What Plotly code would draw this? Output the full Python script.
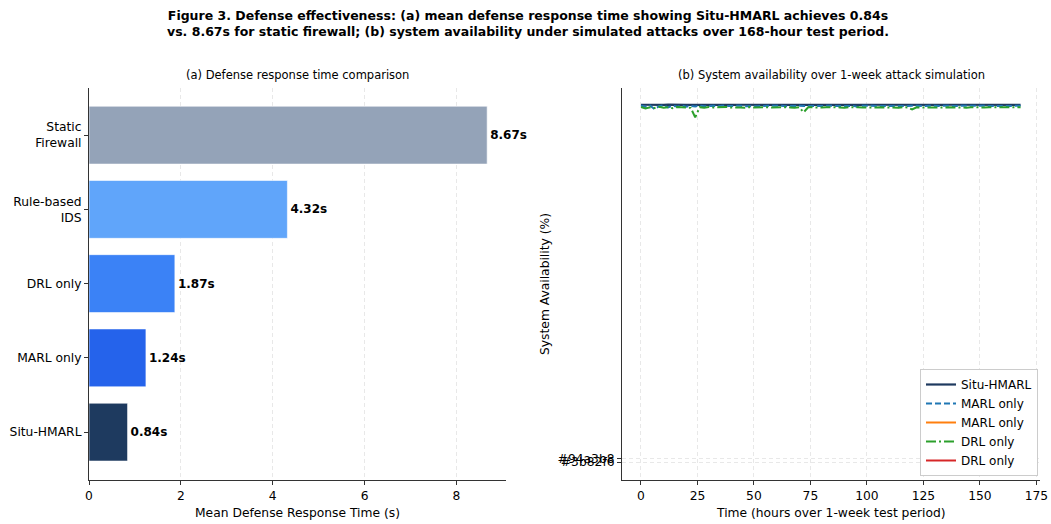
import plotly.graph_objects as go

# ---------------- data ----------------
methods = ["Situ-HMARL", "MARL only", "DRL only", "Rule-based<br>IDS", "Static<br>Firewall"]
response_times = [0.84, 1.24, 1.87, 4.32, 8.67]
bar_colors = ["#1e3a5f", "#2563eb", "#3b82f6", "#60a5fa", "#94a3b8"]

hours = list(range(0, 169, 2))

situ_hmarl = [
    99.92, 99.88, 99.90, 99.86, 99.91, 99.89, 99.93, 99.87, 99.90, 99.92,
    99.88, 99.91, 99.89, 99.90, 99.93, 99.88, 99.90, 99.91, 99.87, 99.92,
    99.90, 99.89, 99.91, 99.88, 99.90, 99.92, 99.89, 99.90, 99.91, 99.88,
    99.92, 99.90, 99.89, 99.91, 99.90, 99.88, 99.92, 99.90, 99.89, 99.91,
    99.90, 99.88, 99.92, 99.89, 99.90, 99.91, 99.88, 99.90, 99.92, 99.89,
    99.91, 99.90, 99.88, 99.92, 99.90, 99.89, 99.91, 99.90, 99.88, 99.92,
    99.90, 99.89, 99.91, 99.90, 99.88, 99.92, 99.90, 99.89, 99.91, 99.90,
    99.88, 99.92, 99.90, 99.89, 99.91, 99.90, 99.88, 99.92, 99.90, 99.89,
    99.91, 99.90, 99.88, 99.92, 99.90,
]
marl_only = [
    99.72, 99.30, 99.65, 98.70, 99.50, 99.75, 99.20, 99.62, 99.40, 99.70,
    99.35, 99.60, 99.45, 99.68, 99.50, 99.58, 99.62, 99.48, 99.66, 99.55,
    99.60, 99.52, 99.64, 99.50, 99.58, 99.62, 99.54, 99.60, 99.66, 99.52,
    99.58, 99.64, 99.50, 99.60, 99.56, 99.62, 99.58, 99.54, 99.64, 99.60,
    99.56, 99.62, 99.58, 99.52, 99.60, 99.64, 99.56, 99.60, 99.30, 99.62,
    99.58, 99.60, 99.54, 99.64, 99.58, 99.60, 99.56, 99.62, 99.58, 99.60,
    99.64, 99.56, 99.60, 99.58, 99.62, 99.54, 99.60, 99.64, 99.58, 99.60,
    99.56, 99.62, 99.60, 99.58, 99.64, 99.60, 99.56, 99.62, 99.60, 99.58,
    99.62, 99.60, 99.58, 99.64, 99.66,
]
drl_only = [
    99.30, 98.90, 99.20, 99.00, 99.35, 99.10, 99.25, 98.95, 99.30, 99.15,
    99.20, 99.05, 96.40, 99.25, 99.10, 99.30, 99.15, 99.20, 99.05, 99.28,
    99.12, 99.22, 99.18, 99.08, 99.26, 99.14, 99.20, 99.10, 99.24, 99.16,
    99.22, 99.12, 99.26, 99.18, 99.10, 99.24, 97.80, 99.20, 99.14, 99.22,
    99.16, 99.24, 99.12, 99.20, 99.18, 99.10, 99.26, 99.14, 99.22, 99.18,
    99.12, 99.24, 99.16, 99.20, 99.14, 99.22, 99.18, 99.10, 99.24, 99.16,
    98.60, 99.20, 99.14, 99.22, 99.18, 99.12, 99.24, 99.16, 99.20, 99.14,
    99.22, 99.18, 99.10, 99.24, 99.16, 99.20, 99.14, 99.22, 99.18, 99.12,
    99.24, 99.16, 99.20, 99.18, 99.22,
]
# mis-plotted category labels on the availability axis
cat_tick_vals = [0, 1]
cat_tick_text = ["#3b82f6", "#94a3b8"]

FONT = "DejaVu Sans"
GRID = "#e8e8e8"
AXC = "#333333"

fig = go.Figure()

# ---------------- (a) bars ----------------
fig.add_trace(go.Bar(
    x=response_times, y=methods, orientation="h",
    marker=dict(color=bar_colors, line=dict(color="rgba(255,255,255,0.6)", width=1)),
    width=0.78,
    text=[f"<b>{v:.2f}s</b>" for v in response_times],
    textposition="outside", constraintext="none", cliponaxis=False,
    textfont=dict(family=FONT, size=12, color="black"),
    xaxis="x", yaxis="y", showlegend=False,
))

# ---------------- (b) lines ----------------
fig.add_trace(go.Scatter(x=hours, y=situ_hmarl, mode="lines", name="Situ-HMARL",
                         line=dict(color="#1e3a5f", width=2.2), xaxis="x2", yaxis="y2"))
fig.add_trace(go.Scatter(x=hours, y=marl_only, mode="lines", name="MARL only",
                         line=dict(color="#1f77b4", width=2, dash="6px,3px"), xaxis="x2", yaxis="y2"))
fig.add_trace(go.Scatter(x=[None], y=[None], mode="lines", name="MARL only",
                         line=dict(color="#ff7f0e", width=2), xaxis="x2", yaxis="y2"))
fig.add_trace(go.Scatter(x=hours, y=drl_only, mode="lines", name="DRL only",
                         line=dict(color="#2ca02c", width=2, dash="10px,3px,2px,3px"), xaxis="x2", yaxis="y2"))
fig.add_trace(go.Scatter(x=[None], y=[None], mode="lines", name="DRL only",
                         line=dict(color="#d62728", width=2), xaxis="x2", yaxis="y2"))

axis_common = dict(showline=True, linecolor=AXC, linewidth=1, ticks="outside", ticklen=4,
                   tickcolor=AXC, tickfont=dict(family=FONT, size=12.3, color="black"),
                   zeroline=False, griddash="4px,3px", gridcolor=GRID, gridwidth=0.8,
                   automargin=False)

fig.update_layout(
    width=1051, height=524,
    margin=dict(l=0, r=0, t=0, b=0, pad=0),
    paper_bgcolor="white", plot_bgcolor="white",
    font=dict(family=FONT, size=12, color="black"),
    bargap=0.2,
    xaxis=dict(domain=[89/1051, 506/1051], range=[0, 9.08], tickvals=[0, 2, 4, 6, 8],
               showgrid=True, anchor="y", **axis_common),
    yaxis=dict(domain=[44/524, 436/524], range=[-0.645, 4.635], showgrid=False,
               anchor="x", **axis_common),
    xaxis2=dict(domain=[622/1051, 1040/1051], range=[-8.4, 176.6],
                tickvals=[0, 25, 50, 75, 100, 125, 150, 175], showgrid=True,
                anchor="y2", **axis_common),
    yaxis2=dict(domain=[44/524, 436/524], range=[-5, 104.6], tickvals=cat_tick_vals,
                ticktext=cat_tick_text, showgrid=True, anchor="x2", **axis_common),
    legend=dict(x=1038/1051, y=48/524, xanchor="right", yanchor="bottom",
                bgcolor="white", bordercolor="#cccccc", borderwidth=1,
                font=dict(family=FONT, size=12, color="black"),
                tracegroupgap=0, itemwidth=30),
    annotations=[
        dict(text="<b>Figure 3. Defense effectiveness: (a) mean defense response time showing Situ-HMARL achieves 0.84s<br>"
                  "vs. 8.67s for static firewall; (b) system availability under simulated attacks over 168-hour test period.</b>",
             x=528/1051, y=1 - 6/524, xref="paper", yref="paper", xanchor="center", yanchor="top",
             showarrow=False, font=dict(family=FONT, size=12.5, color="black")),
        dict(text="(a) Defense response time comparison", x=297/1051, y=1 - 75/524,
             xref="paper", yref="paper", xanchor="center", yanchor="middle", showarrow=False,
             font=dict(family=FONT, size=11.5, color="black")),
        dict(text="(b) System availability over 1-week attack simulation", x=831/1051, y=1 - 75/524,
             xref="paper", yref="paper", xanchor="center", yanchor="middle", showarrow=False,
             font=dict(family=FONT, size=11.5, color="black")),
        dict(text="Mean Defense Response Time (s)", x=297/1051, y=1 - 513/524,
             xref="paper", yref="paper", xanchor="center", yanchor="middle", showarrow=False,
             font=dict(family=FONT, size=12.3, color="black")),
        dict(text="Time (hours over 1-week test period)", x=831/1051, y=1 - 513/524,
             xref="paper", yref="paper", xanchor="center", yanchor="middle", showarrow=False,
             font=dict(family=FONT, size=12.3, color="black")),
        dict(text="System Availability (%)", x=545/1051, y=1 - 284/524, textangle=-90,
             xref="paper", yref="paper", xanchor="center", yanchor="middle", showarrow=False,
             font=dict(family=FONT, size=12.3, color="black")),
    ],
)

fig.write_html("out.html")
